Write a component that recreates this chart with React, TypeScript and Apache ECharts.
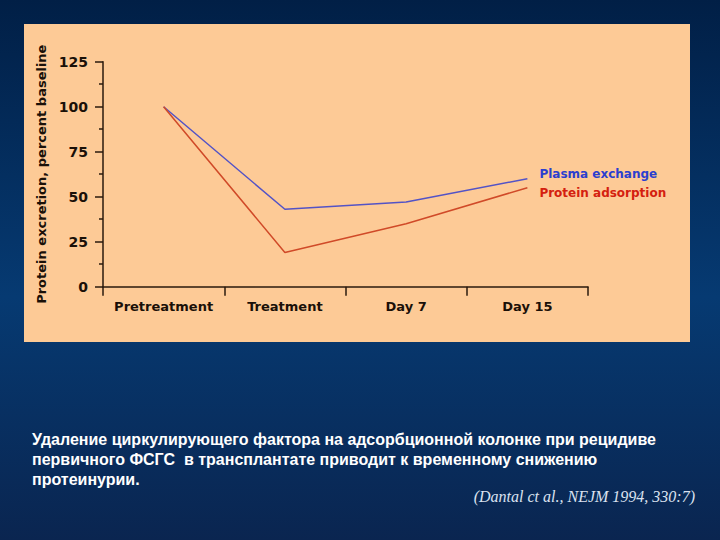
import React, { useEffect, useRef } from "react";
import * as echarts from "echarts";

const categories = ["Pretreatment", "Treatment", "Day 7", "Day 15"];
const plasmaExchange = [100, 43, 47, 60];
const proteinAdsorption = [100, 19, 35, 55];
const yTicks = { min: 0, max: 125, interval: 25 };
const seriesNames = ["Plasma exchange", "Protein adsorption"];
const yAxisTitle = "Protein excretion, percent baseline";
const captionLines = [
  "Удаление циркулирующего фактора на адсорбционной колонке при рецидиве",
  "первичного ФСГС  в трансплантате приводит к временному снижению",
  "протеинурии.",
];
const citation = "(Dantal ct al., NEJM 1994, 330:7)";

const AXIS_COLOR = "#2a1a0c";
const CHART_FONT = "DejaVu Sans";

export default function App() {
  const ref = useRef<HTMLDivElement>(null);
  useEffect(() => {
    if (!ref.current) return;
    const chart = echarts.init(ref.current, undefined, { renderer: "svg" });
    chart.setOption({
      animation: false,
      backgroundColor: {
        type: "linear",
        x: 0,
        y: 0,
        x2: 0,
        y2: 1,
        colorStops: [
          { offset: 0, color: "#011f46" },
          { offset: 0.55, color: "#063a72" },
          { offset: 1, color: "#0a2550" },
        ],
      },
      graphic: [
        {
          type: "rect",
          z: -1,
          shape: { x: 24, y: 24, width: 666, height: 318 },
          style: { fill: "#fdca96" },
        },
        {
          type: "text",
          x: 32,
          y: 429,
          style: {
            text: captionLines.join("\n"),
            fill: "#ffffff",
            font: "bold 16px 'Liberation Sans', Arial, sans-serif",
            lineHeight: 20,
            textVerticalAlign: "top",
          },
        },
        {
          type: "text",
          x: 695,
          y: 496,
          style: {
            text: citation,
            fill: "#dbe2f0",
            font: "italic 16px 'Liberation Serif', 'Times New Roman', serif",
            textAlign: "right",
            textVerticalAlign: "middle",
          },
        },
      ],
      grid: { left: 103, right: 132, top: 61.7, bottom: 253.3, containLabel: false },
      xAxis: {
        type: "category",
        data: categories,
        boundaryGap: true,
        axisLine: { lineStyle: { color: AXIS_COLOR, width: 1.5 } },
        axisTick: {
          show: true,
          interval: 0,
          length: 9,
          alignWithLabel: false,
          lineStyle: { color: AXIS_COLOR, width: 1.5 },
        },
        axisLabel: {
          interval: 0,
          margin: 13,
          color: "#1a1008",
          fontFamily: CHART_FONT,
          fontWeight: "bold",
          fontSize: 13,
        },
        splitLine: { show: false },
      },
      yAxis: {
        type: "value",
        min: yTicks.min,
        max: yTicks.max,
        interval: yTicks.interval,
        name: yAxisTitle,
        nameLocation: "middle",
        nameGap: 53,
        nameRotate: 90,
        nameTextStyle: {
          color: "#1a1008",
          fontFamily: CHART_FONT,
          fontWeight: "bold",
          fontSize: 13,
        },
        axisLine: { show: true, lineStyle: { color: AXIS_COLOR, width: 1.5 } },
        axisTick: { show: true, length: 8, lineStyle: { color: AXIS_COLOR, width: 1.5 } },
        minorTick: { show: true, splitNumber: 2, length: 4, lineStyle: { color: AXIS_COLOR, width: 1.5 } },
        axisLabel: {
          margin: 15,
          color: "#1a1008",
          fontFamily: CHART_FONT,
          fontWeight: "bold",
          fontSize: 14,
        },
        splitLine: { show: false },
      },
      series: [
        {
          name: seriesNames[0],
          type: "line",
          data: plasmaExchange,
          symbol: "none",
          lineStyle: { color: "#5353c6", width: 1.5 },
          itemStyle: { color: "#5353c6" },
          endLabel: {
            show: true,
            formatter: seriesNames[0],
            distance: 12,
            offset: [0, -5],
            color: "#2b3fcf",
            fontFamily: CHART_FONT,
            fontWeight: "bold",
            fontSize: 12,
          },
        },
        {
          name: seriesNames[1],
          type: "line",
          data: proteinAdsorption,
          symbol: "none",
          lineStyle: { color: "#d04a28", width: 1.5 },
          itemStyle: { color: "#d04a28" },
          endLabel: {
            show: true,
            formatter: seriesNames[1],
            distance: 12,
            offset: [0, 5],
            color: "#d4200f",
            fontFamily: CHART_FONT,
            fontWeight: "bold",
            fontSize: 12,
          },
        },
      ],
    });
    return () => chart.dispose();
  }, []);
  return (
    <div
      ref={ref}
      style={{ position: "fixed", left: 0, top: 0, width: 720, height: 540 }}
    />
  );
}
